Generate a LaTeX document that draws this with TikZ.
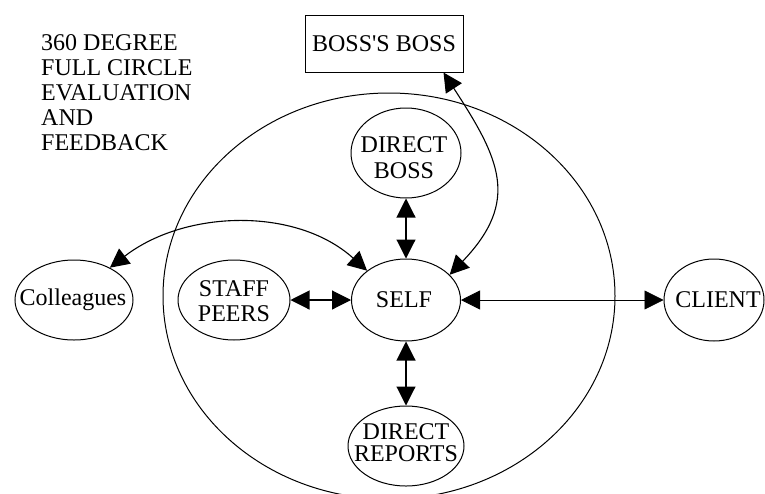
\documentclass[tikz,border=0pt]{standalone}
\usepackage{fontspec}
\setmainfont{Liberation Serif}
\usetikzlibrary{shapes.geometric,arrows.meta}
\begin{document}
\begin{tikzpicture}[x=1pt,y=-1pt,
  oval/.style={draw, ellipse, line width=1pt, inner sep=0pt},
  box/.style={draw, rectangle, line width=1pt, inner sep=0pt},
  lbl/.style={font=\fontsize{24}{25}\selectfont, align=center, inner sep=0pt},
  tip/.tip={Triangle[length=19pt,width=19pt]},
  link/.style={line width=1.1pt, tip-tip},
  longlink/.style={line width=0.8pt, tip-tip}]
\useasboundingbox (0,0) rectangle (765,493);

% outer circle of evaluators
\draw[line width=1pt] (389,296) ellipse [x radius=226, y radius=203];

% title
\node[lbl, align=left, anchor=north west] (title) at (41,34)
  {360 DEGREE\\FULL CIRCLE\\EVALUATION\\AND\\FEEDBACK};

% participants
\node[box, minimum width=158pt, minimum height=57pt] (bb) at (384,43.5) {};
\node[lbl] (bbt) at (bb) {BOSS\textquotesingle S BOSS};

\node[oval, minimum width=110pt, minimum height=90pt] (dboss) at (406,153) {};
\node[lbl, font=\fontsize{24}{26}\selectfont] (dbosst) at (404,158) {DIRECT\\BOSS};

\node[oval, minimum width=109pt, minimum height=82pt] (self) at (406,300) {};
\node[lbl] (selft) at (404,300) {SELF};

\node[oval, minimum width=112pt, minimum height=80pt] (staff) at (234,300) {};
\node[lbl] (stafft) at (234,301) {STAFF\\PEERS};

\node[oval, minimum width=118pt, minimum height=80pt] (col) at (74,300) {};
\node[lbl] (colt) at (73,300) {Colleagues};

\node[oval, minimum width=100pt, minimum height=82pt] (client) at (714,300) {};
\node[lbl] (clientt) at (718,300) {CLIENT};

\node[oval, minimum width=116pt, minimum height=80pt] (dreps) at (406,446) {};
\node[lbl, font=\fontsize{24}{22}\selectfont] (drepst) at (406,443) {DIRECT\\REPORTS};

% two-way feedback links
\draw[link] (dboss) -- (self);
\draw[link] (self) -- (dreps);
\draw[link] (staff) -- (self);
\draw[longlink] (self) -- (client);
\draw[link] ([xshift=-20pt]bb.south east) .. controls +(56,86) and +(71,-74) .. (self.30);
\draw[link] (col.42) .. controls +(75,-58) and +(-71,-64) .. (self.143);
\end{tikzpicture}
\end{document}
